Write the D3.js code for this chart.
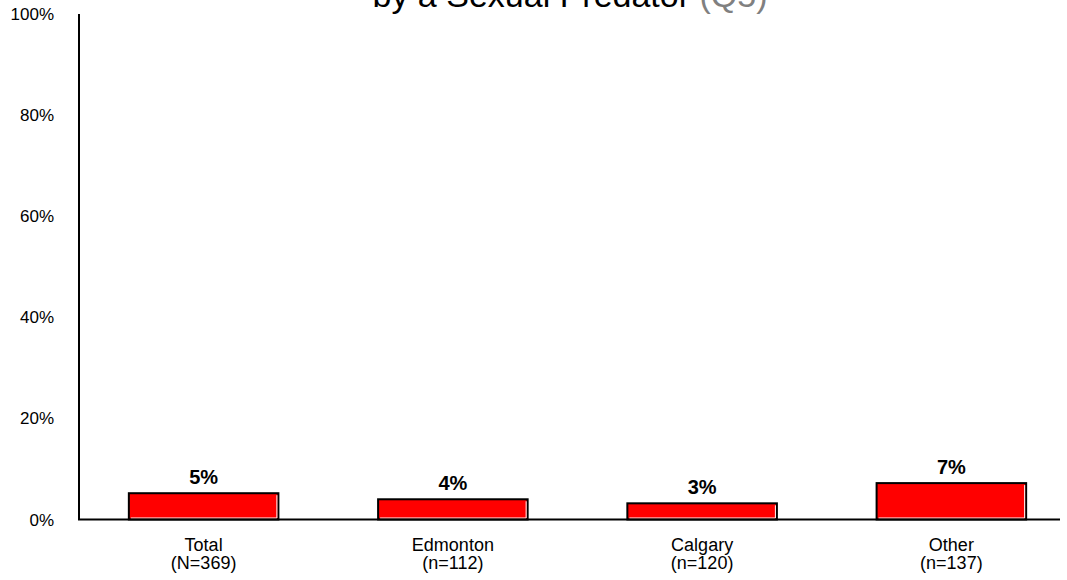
<!DOCTYPE html>
<html lang="en">
  <head>
    <meta charset="UTF-8" />
    <script src="https://d3js.org/d3.v7.min.js"></script>
    <title>Sexual Predator</title>
    <style>
      body { margin: 0; background: #fff; font-family: "Liberation Sans", Arial, sans-serif; }
    </style>
  </head>
  <body>
    <svg width="1067" height="580"></svg>
    <script>
      const categories = ["Total", "Edmonton", "Calgary", "Other"];
      const sampleSizes = ["(N=369)", "(n=112)", "(n=120)", "(n=137)"];
      const values = [5.2, 4.0, 3.2, 7.2];
      const valueLabels = ["5%", "4%", "3%", "7%"];
      const yTicks = [0, 20, 40, 60, 80, 100];

      const svg = d3.select("svg");
      const plotLeft = 79, plotRight = 1076, plotTop = 14, plotBottom = 519.5;

      const x = d3.scaleBand().domain(categories).range([plotLeft, plotRight]).paddingInner(0.4).paddingOuter(0.2);
      const y = d3.scaleLinear().domain([0, 100]).range([plotBottom, plotTop]);

      // title (first line sits above the visible area)
      const title = svg.append("text")
        .attr("x", 570).attr("y", 7)
        .attr("text-anchor", "middle")
        .style("font-size", "34px");
      title.append("tspan").text("by a Sexual Predator ");
      title.append("tspan").attr("fill", "#808080").text("(Q5)");

      // y tick labels
      svg.append("g").selectAll("text")
        .data(yTicks).enter().append("text")
        .attr("x", 54).attr("y", d => y(d) + 6)
        .attr("text-anchor", "end")
        .style("font-size", "17px")
        .text(d => d + "%");

      // bars
      const bars = svg.append("g");
      bars.selectAll("rect.bar")
        .data(values).enter().append("rect")
        .attr("class", "bar")
        .attr("x", (d, i) => x(categories[i]))
        .attr("y", d => y(d))
        .attr("width", x.bandwidth())
        .attr("height", d => plotBottom - y(d))
        .attr("fill", "#ff0000")
        .attr("stroke", "#000")
        .attr("stroke-width", 2);

      // white inner highlight on right and bottom edges
      bars.selectAll("path.hl")
        .data(values).enter().append("path")
        .attr("class", "hl")
        .attr("d", (d, i) => {
          const x0 = x(categories[i]) + 2, x1 = x(categories[i]) + x.bandwidth() - 1.5;
          const y0 = y(d) + 2, y1 = plotBottom - 1.5;
          return `M${x1},${y0}V${y1}H${x0}`;
        })
        .attr("fill", "none")
        .attr("stroke", "#fff")
        .attr("stroke-width", 1);

      // value labels
      svg.append("g").selectAll("text")
        .data(values).enter().append("text")
        .attr("x", (d, i) => x(categories[i]) + x.bandwidth() / 2)
        .attr("y", d => y(d) - 9)
        .attr("text-anchor", "middle")
        .style("font-size", "20px")
        .style("font-weight", "bold")
        .text((d, i) => valueLabels[i]);

      // axes lines
      svg.append("line")
        .attr("x1", plotLeft).attr("x2", plotLeft)
        .attr("y1", plotTop).attr("y2", plotBottom)
        .attr("stroke", "#000").attr("stroke-width", 2);
      svg.append("line")
        .attr("x1", plotLeft - 1).attr("x2", 1060)
        .attr("y1", plotBottom).attr("y2", plotBottom)
        .attr("stroke", "#000").attr("stroke-width", 2);

      // category labels
      const cat = svg.append("g").selectAll("text")
        .data(categories).enter().append("text")
        .attr("text-anchor", "middle")
        .style("font-size", "18px");
      cat.append("tspan")
        .attr("x", d => x(d) + x.bandwidth() / 2).attr("y", 551)
        .text(d => d);
      cat.append("tspan")
        .attr("x", d => x(d) + x.bandwidth() / 2).attr("y", 569)
        .text((d, i) => sampleSizes[i]);
    </script>
  </body>
</html>
